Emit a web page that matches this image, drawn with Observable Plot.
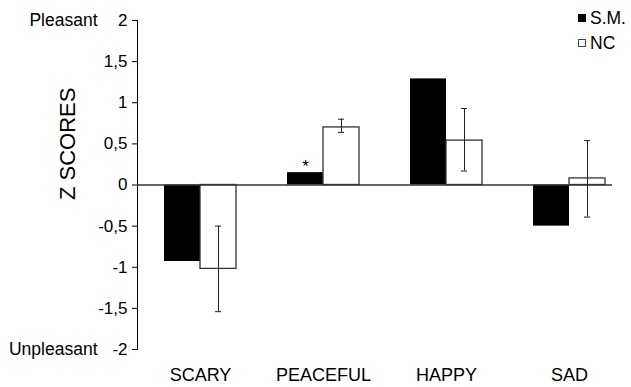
<!DOCTYPE html>
<html>
<head>
<meta charset="utf-8">
<script src="https://cdn.jsdelivr.net/npm/d3@7"></script>
<script src="https://cdn.jsdelivr.net/npm/@observablehq/plot@0.6"></script>
<style>
  body { margin: 0; background: #fff; }
  #wrap { position: relative; width: 631px; height: 387px; font-family: "Liberation Sans", Arial, sans-serif; color: #000; }
  .leg { position: absolute; font-size: 17.5px; line-height: 1; }
  .sw { position: absolute; width: 8px; height: 8px; box-sizing: border-box; }
</style>
</head>
<body>
<div id="wrap"></div>
<script>
const categories = ["SCARY", "PEACEFUL", "HAPPY", "SAD"];
const groups = ["S.M.", "NC"];
const smValues = [-0.93, 0.15, 1.29, -0.50];
const ncValues = [-1.02, 0.70, 0.54, 0.08];
const ncErrLow = [-1.54, 0.64, 0.17, -0.39];
const ncErrHigh = [-0.50, 0.80, 0.93, 0.54];
const significant = ["PEACEFUL"];
const yTicks = [-2, -1.5, -1, -0.5, 0, 0.5, 1, 1.5, 2];
const yEndLabels = [{v: 2, t: "Pleasant"}, {v: -2, t: "Unpleasant"}];

const sm = categories.map((c, i) => ({cat: c, v: smValues[i]}));
const nc = categories.map((c, i) => ({cat: c, v: ncValues[i], lo: ncErrLow[i], hi: ncErrHigh[i]}));
const stars = sm.filter(d => significant.includes(d.cat));

const fmt = d => String(d).replace(".", ",");

const plot = Plot.plot({
  width: 631,
  height: 387,
  marginLeft: 137,
  marginRight: 0,
  marginTop: 20,
  marginBottom: 38,
  style: {fontFamily: "Liberation Sans, Arial, sans-serif", fontSize: "17px", color: "#000", background: "#fff"},
  x: {domain: categories, paddingInner: 0.417, paddingOuter: 0.21, tickSize: 0, tickPadding: 19, label: null, axis: null},
  y: {domain: [-2, 2], ticks: yTicks, tickFormat: fmt, tickSize: 5, tickPadding: 5, line: true, label: null},
  marks: [
    Plot.axisX({tickSize: 0, tickPadding: 19, fontSize: 18, label: null}),
    Plot.barY(sm, {x: "cat", y: "v", fill: "#000", insetRight: 36}),
    Plot.barY(nc, {x: "cat", y: "v", fill: "#fff", stroke: "#333", strokeWidth: 1.3, insetLeft: 36}),
    Plot.ruleY([0], {stroke: "#333", strokeWidth: 1.3, insetRight: 19}),
    Plot.ruleX(nc, {x: "cat", y1: "lo", y2: "hi", dx: 18, stroke: "#222", strokeWidth: 1}),
    Plot.tickY(nc, {x: "cat", y: "lo", insetLeft: 51, insetRight: 15, stroke: "#222", strokeWidth: 1}),
    Plot.tickY(nc, {x: "cat", y: "hi", insetLeft: 51, insetRight: 15, stroke: "#222", strokeWidth: 1}),
    Plot.text(stars, {x: "cat", y: "v", text: () => "*", dx: -18, dy: -1, lineAnchor: "bottom", fontSize: 17}),
    Plot.text(yEndLabels, {y: "v", text: "t", frameAnchor: "left", dx: -40, textAnchor: "end", fontSize: 17.5}),
    Plot.text(["Z SCORES"], {text: d => d, frameAnchor: "left", rotate: -90, dx: -70, dy: 15, fontSize: 22})
  ]
});

const wrap = document.getElementById("wrap");
wrap.appendChild(plot);

const legendItems = [
  {label: groups[0], fill: "#000", border: "#000", top: 14},
  {label: groups[1], fill: "#fff", border: "#444", top: 39}
];
for (const it of legendItems) {
  const sw = document.createElement("div");
  sw.className = "sw";
  sw.style.left = "578px";
  sw.style.top = it.top + "px";
  sw.style.background = it.fill;
  sw.style.border = "1px solid " + it.border;
  wrap.appendChild(sw);
  const tx = document.createElement("div");
  tx.className = "leg";
  tx.style.left = "590px";
  tx.style.top = (it.top - 4) + "px";
  tx.textContent = it.label;
  wrap.appendChild(tx);
}
</script>
</body>
</html>
